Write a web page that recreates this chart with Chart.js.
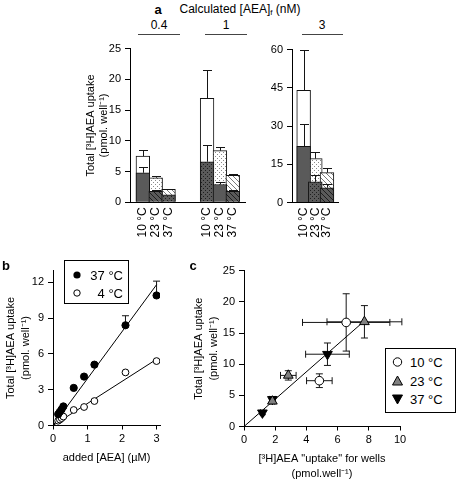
<!DOCTYPE html>
<html><head><meta charset="utf-8">
<script src="https://cdn.jsdelivr.net/npm/chart.js@4.4.1/dist/chart.umd.min.js"></script>
<style>
html,body{margin:0;padding:0;background:#fff;}
body{width:458px;height:483px;position:relative;overflow:hidden;font-family:'Liberation Sans',Arial,Helvetica,sans-serif;color:#000;}
canvas{position:absolute;}
.t{position:absolute;white-space:nowrap;line-height:1;transform:translate(-50%,-50%);}
.tl{position:absolute;white-space:nowrap;line-height:1;transform:translate(0,-50%);}
.tr{position:absolute;white-space:nowrap;line-height:1;transform:translate(-100%,-50%);}
.bold{font-weight:bold;font-size:13px;}
.hl{position:absolute;height:0;border-top:1px solid #444;}
.lg{position:absolute;border:1px solid #000;box-sizing:border-box;background:#fff;}
sub{font-size:8px;vertical-align:-2px;}
</style></head><body>

<canvas id="cA1" width="180" height="212" style="left:85px;top:38px"></canvas>
<canvas id="cA2" width="92" height="212" style="left:266px;top:38px"></canvas>
<canvas id="cB" width="162" height="215" style="left:3px;top:250px"></canvas>
<canvas id="cC" width="219" height="231" style="left:191px;top:250px"></canvas>

<div class="t bold" style="left:158px;top:9px">a</div>
<div class="t" style="left:240px;top:10px;font-size:12px">Calculated [AEA]<sub>f</sub> (nM)</div>
<div class="t" style="left:159px;top:25px;font-size:12px">0.4</div>
<div class="t" style="left:226px;top:25px;font-size:12px">1</div>
<div class="t" style="left:322px;top:25px;font-size:12px">3</div>
<div class="hl" style="left:138px;top:34px;width:42px"></div>
<div class="hl" style="left:205px;top:34px;width:42px"></div>
<div class="hl" style="left:302px;top:34px;width:41px"></div>

<div class="t bold" style="left:6px;top:265px">b</div>
<div class="t bold" style="left:193px;top:265px">c</div>

<div class="lg" style="left:64px;top:260px;width:65px;height:44px"></div>
<div class="tr" style="left:123px;top:275px;font-size:13px">37 °C</div>
<div class="tr" style="left:123px;top:293px;font-size:13px">4 °C</div>

<div class="lg" style="left:385px;top:348px;width:71px;height:65px"></div>
<div class="tl" style="left:410px;top:362px;font-size:13px">10 °C</div>
<div class="tl" style="left:410px;top:381px;font-size:13px">23 °C</div>
<div class="tl" style="left:410px;top:399px;font-size:13px">37 °C</div>

<svg width="458" height="483" style="position:absolute;left:0;top:0;pointer-events:none">
  <circle cx="77" cy="275" r="3.6" fill="#000"/>
  <circle cx="77" cy="293" r="3.2" fill="#fff" stroke="#000" stroke-width="1"/>
  <circle cx="397.5" cy="362" r="4.2" fill="#fff" stroke="#000" stroke-width="1"/>
  <polygon points="397.5,376 402.5,385 392.5,385" fill="#808080" stroke="#000" stroke-width="1"/>
  <polygon points="397.5,404 402.5,395 392.5,395" fill="#000" stroke="#000" stroke-width="1"/>
</svg>

<script>
// ---------- DATA ----------
// Panel a, left (0.4 nM and 1 nM)
const catsA1 = ["", "10 °C", "23 °C", "37 °C", "", "", "10 °C", "23 °C", "37 °C", ""];
const totalA1 = [null, 7.5, 4.0, 2.1, null, null, 16.9, 8.4, 4.4, null];
const totalErrA1 = [null, 1.05, 0.35, 0.12, null, null, 4.6, 0.65, 0.25, null];
const boundA1 = [null, 4.8, 1.8, 1.2, null, null, 6.6, 2.9, 1.8, null];
const boundErrA1 = [null, 0.9, 0.12, null, null, null, 2.7, 0.35, 0.15, null];
const ticksA1 = [0, 5, 10, 15, 20, 25];
// Panel a, right (3 nM)
const catsA2 = ["", "10 °C", "23 °C", "37 °C", ""];
const totalA2 = [null, 44, 17.2, 11.7, null];
const totalErrA2 = [null, 16, 2.6, 1.9, null];
const boundA2 = [null, 22, 8.1, 5.8, null];
const boundErrA2 = [null, 8.8, 2.5, 1.3, null];
const ticksA2 = [0, 15, 30, 45, 60];
// Panel b
const b37X = [0.15, 0.2, 0.25, 0.3, 0.6, 0.9, 1.2, 2.1, 3.0];
const b37Y = [0.95, 1.15, 1.35, 1.6, 3.15, 4.1, 5.1, 8.4, 10.9];
const b37Err = [null, null, null, null, null, null, null, 0.8, 1.2];
const b4X = [0.15, 0.2, 0.25, 0.3, 0.6, 0.9, 1.2, 2.1, 3.0];
const b4Y = [0.4, 0.5, 0.62, 0.75, 1.3, 1.55, 2.05, 4.45, 5.4];
const fitB37X = [0, 3.0], fitB37Y = [0, 11.8];
const fitB4X = [0, 3.0], fitB4Y = [0, 5.55];
const ticksBX = [0, 1, 2, 3];
const ticksBY = [0, 3, 6, 9, 12];
// Panel c
const c10X = [4.83, 6.55], c10Y = [7.35, 16.7], c10XErr = [0.82, 2.8], c10YErr = [1.1, 4.6];
const c23X = [1.82, 2.84, 7.72], c23Y = [4.05, 8.2, 16.8], c23XErr = [0.15, 0.5, 2.4], c23YErr = [0.35, 0.75, 2.6];
const c37X = [1.18, 1.82, 5.35], c37Y = [2.2, 4.35, 11.6], c37XErr = [0.12, 0.18, 1.4], c37YErr = [0.3, 0.4, 1.8];
const fitCX = [0, 7.7], fitCY = [0, 16.9];
const ticksCX = [0, 2, 4, 6, 8, 10];
const ticksCY = [0, 5, 10, 15, 20, 25];

// ---------- STYLE HELPERS ----------
const FF = "'Liberation Sans', Arial, Helvetica, sans-serif";
Chart.defaults.font.family = FF;
Chart.defaults.color = '#000';

function pattern(bg, fg, kind) {
  const s = kind === 'dots' ? 4 : 5;
  const c = document.createElement('canvas'); c.width = s; c.height = s;
  const x = c.getContext('2d');
  x.fillStyle = bg; x.fillRect(0, 0, s, s);
  x.fillStyle = fg; x.strokeStyle = fg; x.lineWidth = 1;
  if (kind === 'dots') { x.fillRect(0, 0, 1, 1); x.fillRect(2, 2, 1, 1); }
  else {
    x.beginPath();
    x.moveTo(-1, -1); x.lineTo(s + 1, s + 1);
    x.moveTo(-1, s - 1); x.lineTo(1, s + 1);
    x.moveTo(s - 1, -1); x.lineTo(s + 1, 1);
    x.stroke();
  }
  return x.createPattern(c, 'repeat');
}
const DK = '#5a5a5a';
const dkDots = pattern(DK, '#1e1e1e', 'dots');
const dkHatch = pattern(DK, '#1e1e1e', 'hatch');
const ltDots = pattern('#ffffff', '#8a8a8a', 'dots');
const ltHatch = pattern('#ffffff', '#7a7a7a', 'hatch');

function ticksFrom(arr) { return s => { s.ticks = arr.map(v => ({ value: v })); }; }

function yAxis(min, max, tk, width, title, lh) {
  return {
    type: 'linear', min, max, afterBuildTicks: ticksFrom(tk),
    afterFit: s => { s.width = width; },
    grid: { display: true, drawOnChartArea: false, drawTicks: true, tickLength: 5, color: '#000', lineWidth: 1 },
    border: { display: true, color: '#000', width: 1 },
    ticks: { font: { size: 11, family: FF }, color: '#000', padding: 4 },
    title: title ? { display: true, text: title, color: '#000', padding: 0, font: { size: 11, family: FF, lineHeight: lh } } : { display: false }
  };
}
function xLinear(min, max, tk, height, title, lh) {
  return {
    type: 'linear', min, max, afterBuildTicks: ticksFrom(tk),
    afterFit: s => { s.height = height; },
    grid: { display: true, drawOnChartArea: false, drawTicks: true, tickLength: 4, color: '#000', lineWidth: 1 },
    border: { display: true, color: '#000', width: 1 },
    ticks: { font: { size: 11, family: FF }, color: '#000', padding: 3, maxRotation: 0 },
    title: { display: true, text: title, color: '#000', padding: 0, font: { size: 11, family: FF, lineHeight: lh } }
  };
}
function xCat(height) {
  return {
    type: 'category', offset: false,
    afterFit: s => { s.height = height; },
    grid: { display: true, drawOnChartArea: false, drawTicks: false },
    border: { display: true, color: '#000', width: 1 },
    ticks: { minRotation: 90, maxRotation: 90, autoSkip: false, font: { size: 12, family: FF }, color: '#000', padding: 5 }
  };
}

function seg(ctx, x1, y1, x2, y2) {
  ctx.beginPath(); ctx.moveTo(x1, y1); ctx.lineTo(x2, y2); ctx.stroke();
}
function barErr(specs) {
  return {
    id: 'barErr',
    afterDatasetsDraw(chart) {
      const ctx = chart.ctx, ys = chart.scales.y;
      ctx.save(); ctx.strokeStyle = '#151515'; ctx.lineWidth = 1;
      specs.forEach(sp => {
        const meta = chart.getDatasetMeta(sp.ds);
        const vals = chart.data.datasets[sp.ds].data;
        meta.data.forEach((el, i) => {
          const v = vals[i], e = sp.err[i];
          if (v == null || e == null) return;
          const x = Math.round(el.x) + 0.5;
          const y0 = ys.getPixelForValue(v), y1 = Math.round(ys.getPixelForValue(v + e)) + 0.5;
          seg(ctx, x, y0, x, y1);
          seg(ctx, x - 4.5, y1, x + 4.5, y1);
        });
      });
      ctx.restore();
    }
  };
}
function xyErr(specs) {
  return {
    id: 'xyErr',
    beforeDatasetsDraw(chart) {
      const ctx = chart.ctx, xs = chart.scales.x, ys = chart.scales.y;
      ctx.save(); ctx.strokeStyle = '#151515'; ctx.lineWidth = 1;
      const cap = 3.5;
      specs.forEach(sp => {
        sp.x.forEach((xv, i) => {
          const yv = sp.y[i];
          const px = xs.getPixelForValue(xv), py = ys.getPixelForValue(yv);
          const ex = sp.xerr ? sp.xerr[i] : null, ey = sp.yerr ? sp.yerr[i] : null;
          if (ex) {
            const a = xs.getPixelForValue(xv - ex), b = xs.getPixelForValue(xv + ex);
            seg(ctx, a, py, b, py);
            seg(ctx, a, py - cap, a, py + cap);
            seg(ctx, b, py - cap, b, py + cap);
          }
          if (ey) {
            const top = ys.getPixelForValue(yv + ey);
            seg(ctx, px, py, px, top);
            seg(ctx, px - cap, top, px + cap, top);
            if (!sp.upOnly) {
              const bot = ys.getPixelForValue(yv - ey);
              seg(ctx, px, py, px, bot);
              seg(ctx, px - cap, bot, px + cap, bot);
            }
          }
        });
      });
      ctx.restore();
    }
  };
}

const common = { responsive: false, animation: false, events: [], plugins: { legend: { display: false }, tooltip: { enabled: false } } };
const pts = (xs, ys) => xs.map((x, i) => ({ x, y: ys[i] }));

// ---------- PANEL a (left) ----------
new Chart(document.getElementById('cA1'), {
  type: 'bar',
  data: {
    labels: catsA1,
    datasets: [
      { label: 'bound', data: boundA1, grouped: false, barThickness: 13.7, borderColor: '#111', borderWidth: 1,
        backgroundColor: [null, DK, dkHatch, dkDots, null, null, dkDots, DK, dkHatch, null] },
      { label: 'total', data: totalA1, grouped: false, barThickness: 13.7, borderColor: '#111', borderWidth: 1,
        backgroundColor: [null, '#fff', ltDots, ltHatch, null, null, '#fff', ltDots, ltHatch, null] }
    ]
  },
  options: Object.assign({}, common, {
    layout: { padding: { left: 0, top: 9, right: 10.5, bottom: 0 } },
    scales: {
      x: xCat(47.7),
      y: yAxis(0, 25, ticksA1, 45, ['Total [³H]AEA uptake', '(pmol. well⁻¹)'], 1.15)
    }
  }),
  plugins: [barErr([{ ds: 0, err: boundErrA1 }, { ds: 1, err: totalErrA1 }])]
});

// ---------- PANEL a (right) ----------
new Chart(document.getElementById('cA2'), {
  type: 'bar',
  data: {
    labels: catsA2,
    datasets: [
      { label: 'bound', data: boundA2, grouped: false, barThickness: 13.8, borderColor: '#111', borderWidth: 1,
        backgroundColor: [null, DK, dkDots, dkHatch, null] },
      { label: 'total', data: totalA2, grouped: false, barThickness: 13.8, borderColor: '#111', borderWidth: 1,
        backgroundColor: [null, '#fff', ltDots, ltHatch, null] }
    ]
  },
  options: Object.assign({}, common, {
    layout: { padding: { left: 0, top: 11.5, right: 10.8, bottom: 0 } },
    scales: {
      x: xCat(47.5),
      y: yAxis(0, 60, ticksA2, 26, null, 1.2)
    }
  }),
  plugins: [barErr([{ ds: 0, err: boundErrA2 }, { ds: 1, err: totalErrA2 }])]
});

// ---------- PANEL b ----------
new Chart(document.getElementById('cB'), {
  type: 'scatter',
  data: {
    datasets: [
      { label: '37 °C', data: pts(b37X, b37Y), pointRadius: 3.6, pointBackgroundColor: '#000', pointBorderColor: '#000', pointBorderWidth: 1 },
      { label: '4 °C', data: pts(b4X, b4Y), pointRadius: 3.4, pointBackgroundColor: '#fff', pointBorderColor: '#000', pointBorderWidth: 1 },
      { label: 'fit 37', data: pts(fitB37X, fitB37Y), showLine: true, pointRadius: 0, borderColor: '#000', borderWidth: 1 },
      { label: 'fit 4', data: pts(fitB4X, fitB4Y), showLine: true, pointRadius: 0, borderColor: '#000', borderWidth: 1 }
    ]
  },
  options: Object.assign({}, common, {
    layout: { padding: { left: 0, top: 20.4, right: 4.6, bottom: 0 } },
    scales: {
      x: xLinear(0, 3.1, ticksBX, 39.5, 'added [AEA] (µM)', 1.2),
      y: yAxis(0, 13, ticksBY, 50, ['Total [³H]AEA uptake', '(pmol. well⁻¹)'], 1.4)
    }
  }),
  plugins: [xyErr([{ x: b37X, y: b37Y, yerr: b37Err, upOnly: true }])]
});

// ---------- PANEL c ----------
new Chart(document.getElementById('cC'), {
  type: 'scatter',
  data: {
    datasets: [
      { label: '10 °C', data: pts(c10X, c10Y), pointRadius: 4.3, pointBackgroundColor: '#fff', pointBorderColor: '#000', pointBorderWidth: 1 },
      { label: '23 °C', data: pts(c23X, c23Y), pointStyle: 'triangle', pointRadius: 5.6, pointBackgroundColor: '#808080', pointBorderColor: '#000', pointBorderWidth: 1 },
      { label: '37 °C', data: pts(c37X, c37Y), pointStyle: 'triangle', pointRotation: 180, pointRadius: 5.6, pointBackgroundColor: '#000', pointBorderColor: '#000', pointBorderWidth: 1 },
      { label: 'fit', data: pts(fitCX, fitCY), showLine: true, pointRadius: 0, borderColor: '#000', borderWidth: 1 }
    ]
  },
  options: Object.assign({}, common, {
    layout: { padding: { left: 0, top: 20.7, right: 10, bottom: 0 } },
    scales: {
      x: xLinear(0, 10, ticksCX, 54.5, ['[³H]AEA "uptake" for wells', '(pmol.well⁻¹)'], 1.36),
      y: yAxis(0, 25, ticksCY, 53, ['Total [³H]AEA uptake', '(pmol. well⁻¹)'], 1.4)
    }
  }),
  plugins: [xyErr([
    { x: c10X, y: c10Y, xerr: c10XErr, yerr: c10YErr },
    { x: c23X, y: c23Y, xerr: c23XErr, yerr: c23YErr },
    { x: c37X, y: c37Y, xerr: c37XErr, yerr: c37YErr }
  ])]
});
</script>
</body></html>
